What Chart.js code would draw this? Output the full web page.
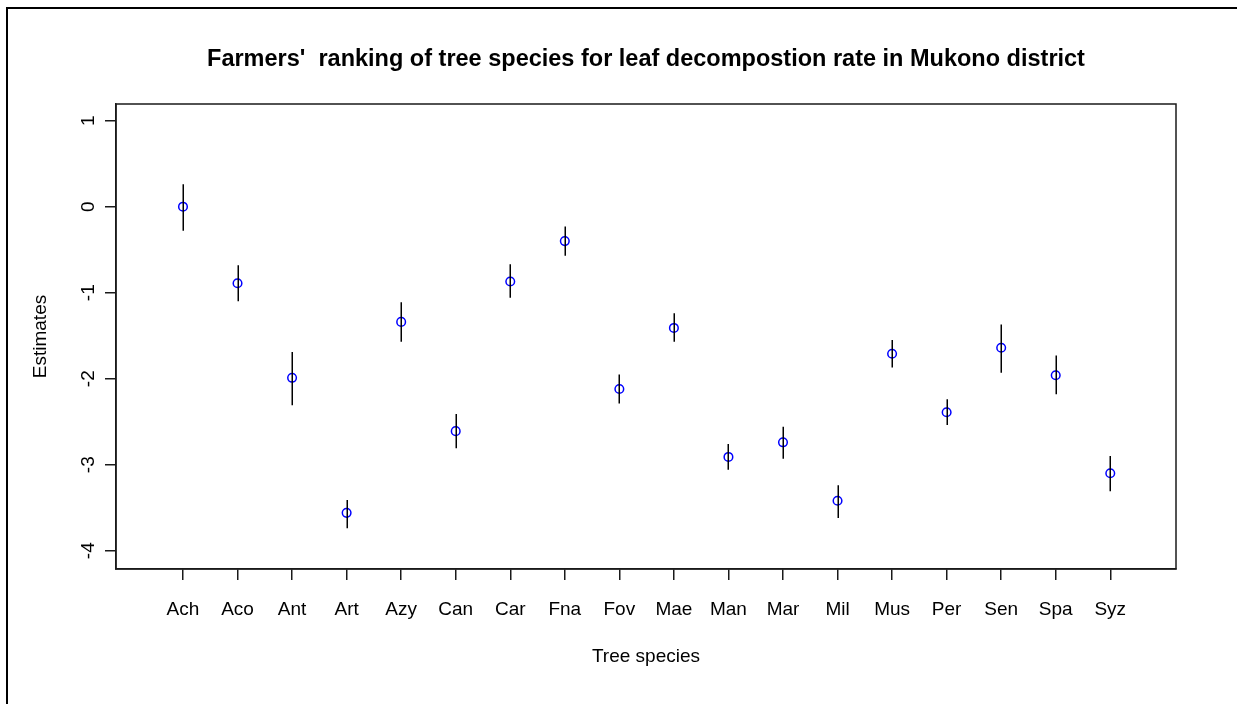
<!DOCTYPE html>
<html>
<head>
<meta charset="utf-8">
<script src="https://cdn.jsdelivr.net/npm/chart.js@4/dist/chart.umd.min.js"></script>
<style>
  html, body { margin:0; padding:0; background:#fff; }
  #wrap { width:1237px; height:704px; position:relative; }
</style>
</head>
<body>
<div id="wrap"><canvas id="chart"></canvas></div>
<script>
/* DATA */
const species   = ["Ach","Aco","Ant","Art","Azy","Can","Car","Fna","Fov","Mae","Man","Mar","Mil","Mus","Per","Sen","Spa","Syz"];
const estimates = [0, -0.89, -1.99, -3.56, -1.34, -2.61, -0.87, -0.40, -2.12, -1.41, -2.91, -2.74, -3.42, -1.71, -2.39, -1.64, -1.96, -3.10];
const lower     = [-0.28, -1.10, -2.31, -3.74, -1.57, -2.81, -1.06, -0.57, -2.29, -1.57, -3.06, -2.93, -3.62, -1.87, -2.54, -1.93, -2.18, -3.31];
const upper     = [0.26, -0.68, -1.69, -3.41, -1.11, -2.41, -0.67, -0.23, -1.95, -1.24, -2.76, -2.56, -3.24, -1.55, -2.24, -1.37, -1.73, -2.90];
const yTicks    = [1, 0, -1, -2, -3, -4];

const FONT = "'Liberation Sans', Arial, sans-serif";
const INK = "#1a1a1a";

/* error bars + R style box, frame and rotated y labels */
const rStyle = {
  id: "rStyle",
  afterDatasetsDraw(chart){
    const {ctx, scales:{x, y}} = chart;
    ctx.save();
    ctx.strokeStyle = "#000";
    ctx.lineWidth = 1.5;
    species.forEach((s, i)=>{
      const px = Math.round(x.getPixelForValue(i)) + 0.25;
      ctx.beginPath();
      ctx.moveTo(px, y.getPixelForValue(upper[i]));
      ctx.lineTo(px, y.getPixelForValue(lower[i]));
      ctx.stroke();
    });
    ctx.restore();
  },
  afterDraw(chart){
    const {ctx, chartArea:a, scales:{y}} = chart;
    ctx.save();
    // plot box
    ctx.strokeStyle = INK; ctx.lineWidth = 1.5;
    ctx.strokeRect(a.left, a.top, a.right - a.left, a.bottom - a.top);
    // outer frame (left + top visible)
    ctx.strokeStyle = "#000"; ctx.lineWidth = 2;
    ctx.beginPath();
    ctx.moveTo(7, chart.height + 5); ctx.lineTo(7, 8); ctx.lineTo(chart.width + 5, 8);
    ctx.stroke();
    // rotated y tick labels
    ctx.fillStyle = "#000";
    ctx.font = "19px " + FONT;
    ctx.textAlign = "center"; ctx.textBaseline = "middle";
    y.ticks.forEach(t=>{
      ctx.save();
      ctx.translate(89, y.getPixelForValue(t.value));
      ctx.rotate(-Math.PI/2);
      ctx.fillText(String(t.value), 0, 0);
      ctx.restore();
    });
    ctx.restore();
  }
};

new Chart(document.getElementById("chart"), {
  type: "scatter",
  data: {
    datasets: [{
      label: "Estimates",
      data: estimates.map((v, i)=>({ x:i, y:v })),
      showLine: false,
      pointStyle: "circle",
      pointRadius: 4.3,
      pointHoverRadius: 4.3,
      pointBorderWidth: 1.5,
      pointBorderColor: "#0000ff",
      pointBackgroundColor: "rgba(0,0,0,0)"
    }]
  },
  options: {
    responsive: true,
    maintainAspectRatio: false,
    animation: false,
    events: [],
    layout: { padding: { left:0, right:61, top:0, bottom:0 } },
    plugins: {
      legend: { display:false },
      tooltip: { enabled:false },
      title: {
        display: true,
        fullSize: false,
        text: "Farmers'  ranking of tree species for leaf decompostion rate in Mukono district",
        color: "#000",
        font: { family: FONT, size: 23.5, weight: "bold" },
        padding: { top: 45, bottom: 30.8 }
      }
    },
    scales: {
      x: {
        type: "linear",
        min: -1.228, max: 18.205,
        afterBuildTicks: (s)=>{ s.ticks = species.map((_, i)=>({ value:i })); },
        afterFit: (s)=>{ s.height = 135; },
        ticks: {
          autoSkip: false, maxRotation: 0, minRotation: 0,
          padding: 18,
          color: "#000",
          font: { family: FONT, size: 19 },
          callback: (v)=> species[v] ?? ""
        },
        grid: { drawOnChartArea:false, drawTicks:true, tickLength:11, color:INK, lineWidth:1.5 },
        border: { display:true, color:INK, width:1.5 },
        title: {
          display: true, text: "Tree species", color: "#000",
          font: { family: FONT, size: 19 },
          padding: { top: 0, bottom: 35.6 }
        }
      },
      y: {
        type: "linear",
        min: -4.213, max: 1.194,
        afterBuildTicks: (s)=>{ s.ticks = yTicks.map(v=>({ value:v })); },
        afterFit: (s)=>{ s.width = 116; },
        ticks: { display:false },
        grid: { drawOnChartArea:false, drawTicks:true, tickLength:11, color:INK, lineWidth:1.5 },
        border: { display:true, color:INK, width:1.5 },
        title: {
          display: true, text: "Estimates", color: "#000",
          font: { family: FONT, size: 19 },
          padding: { top: 29, bottom: 0 }
        }
      }
    }
  },
  plugins: [rStyle]
});
</script>
</body>
</html>
